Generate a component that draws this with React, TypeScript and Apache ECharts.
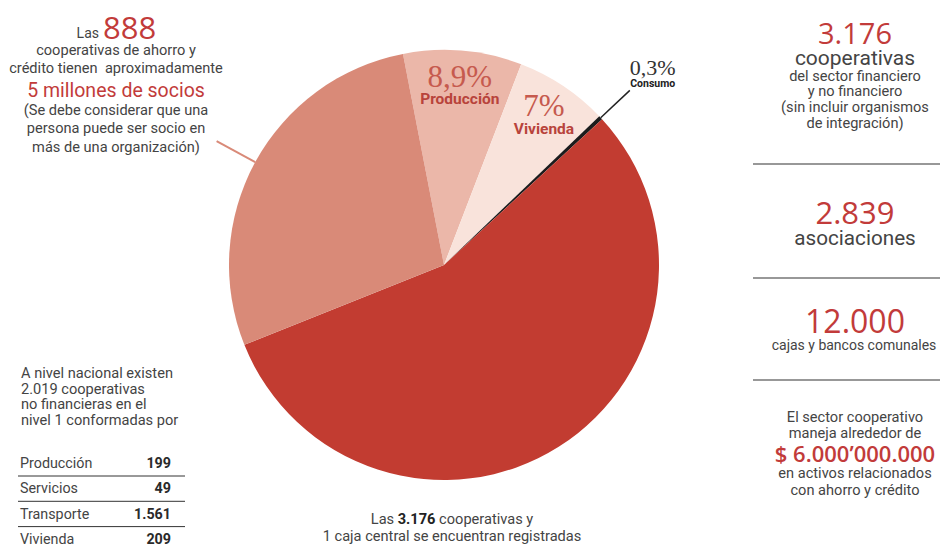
import React, { useEffect, useRef } from "react";
import * as echarts from "echarts";

// ---------- data ----------
const sliceNames = ["Producción", "Vivienda", "Consumo", "Servicios y transporte", "Ahorro y crédito"];
const sliceValues = [8.9, 7, 0.3, 55.8, 28];
const sliceLabels = ["8,9%", "7%", "0,3%", "", ""];
const sliceColors = ["#ebb7a9", "#f9e3db", "#1c1c1c", "#c23c31", "#d98a78"];

const tableCategories = ["Producción", "Servicios", "Transporte", "Vivienda"];
const tableValues = ["199", "49", "1.561", "209"];

const leftIntro = ["A nivel nacional existen", "2.019 cooperativas", "no financieras en el", "nivel 1 conformadas por"];

const topLeftLines = [
  "cooperativas de ahorro y",
  "crédito tienen  aproximadamente",
  "5 millones de socios",
  "(Se debe considerar que una",
  "persona puede ser socio en",
  "más de una organización)",
];

const statNumbers = ["3.176", "2.839", "12.000", "$ 6.000’000.000"];

// ---------- styles ----------
const FONT = "Roboto, 'Open Sans', sans-serif";
const NUMFONT = "'Open Sans', sans-serif";
const SERIF = "'Liberation Serif', 'DejaVu Serif', serif";
const GRAY = "#444444";
const RED = "#c23b3a";

const txt = (
  text: string,
  x: number,
  y: number,
  size: number,
  opts: { fill?: string; align?: string; weight?: string | number; family?: string } = {}
) => ({
  type: "text",
  x,
  y,
  silent: true,
  style: {
    text,
    fontSize: size,
    fontFamily: opts.family || FONT,
    fontWeight: opts.weight || "normal",
    fill: opts.fill || GRAY,
    textAlign: opts.align || "center",
    textVerticalAlign: "middle",
    align: opts.align || "center",
    verticalAlign: "middle",
  },
});

const hline = (x1: number, x2: number, y: number, color = "#333", w = 1.2) => ({
  type: "line",
  silent: true,
  shape: { x1, y1: y, x2, y2: y },
  style: { stroke: color, lineWidth: w },
});

export default function App() {
  const ref = useRef<HTMLDivElement>(null);

  useEffect(() => {
    const chart = echarts.init(ref.current!, null, { renderer: "svg" });

    const graphics: any[] = [];

    // top-left block
    const LX = 116;
    graphics.push(txt("Las", 99, 33, 14, { align: "right" }));
    graphics.push(txt("888", 103, 27, 31, { align: "left", fill: RED, family: NUMFONT }));
    const tlY = [50, 68, 90, 110, 128, 147];
    topLeftLines.forEach((l, i) => {
      graphics.push(txt(l, LX, tlY[i], i === 2 ? 19.5 : 14.6, { fill: i === 2 ? RED : GRAY }));
    });

    // right panel
    const RX = 855;
    graphics.push(txt(statNumbers[0], RX, 32, 29, { fill: RED, family: NUMFONT }));
    graphics.push(txt("cooperativas", RX, 58, 21));
    ["del sector financiero", "y no financiero", "(sin incluir organismos", "de integración)"].forEach((l, i) =>
      graphics.push(txt(l, RX, [76, 91, 107, 123][i], 14.6))
    );
    graphics.push(hline(753, 940, 164));
    graphics.push(txt(statNumbers[1], RX, 212, 31, { fill: RED, family: NUMFONT }));
    graphics.push(txt("asociaciones", RX, 238, 20.7));
    graphics.push(hline(753, 940, 278));
    graphics.push(txt(statNumbers[2], RX, 320, 32, { fill: RED, family: NUMFONT }));
    graphics.push(txt("cajas y bancos comunales", 854, 345, 14));
    graphics.push(hline(753, 940, 380));
    graphics.push(txt("El sector cooperativo", RX, 417, 14.6));
    graphics.push(txt("maneja alrededor de", RX, 433, 14.6));
    graphics.push(txt(statNumbers[3], RX, 453, 22, { fill: RED, family: NUMFONT, weight: 600 }));
    graphics.push(txt("en activos relacionados", RX, 473, 14.6));
    graphics.push(txt("con ahorro y crédito", RX, 490, 14.6));

    // bottom-left block
    leftIntro.forEach((l, i) => graphics.push(txt(l, 21, 373 + i * 15.5, 14.6, { align: "left" })));
    tableCategories.forEach((c, i) => {
      const y = 463 + i * 25.3;
      graphics.push(txt(c, 20, y, 14.3, { align: "left" }));
      graphics.push(txt(tableValues[i], 171, y, 14.3, { align: "right", weight: "bold", fill: "#2a2a2a" }));
      if (i < tableCategories.length - 1) graphics.push(hline(18, 185, y + 13, "#333", 1));
    });

    // bottom center
    graphics.push({
      type: "text",
      x: 452,
      y: 519,
      silent: true,
      style: {
        text: "{a|Las }{b|3.176}{a| cooperativas y}",
        textAlign: "center",
        textVerticalAlign: "middle",
        align: "center",
        verticalAlign: "middle",
        rich: {
          a: { fontFamily: FONT, fontSize: 14.6, fill: GRAY },
          b: { fontFamily: FONT, fontSize: 14.6, fontWeight: "bold", fill: "#222" },
        },
      },
    });
    graphics.push(txt("1 caja central se encuentran registradas", 452, 536, 14.6));

    const pctRich = {
      p: { fontFamily: SERIF, fontSize: 31, color: "#c65a4e", lineHeight: 28, align: "center" },
      n: { fontFamily: FONT, fontSize: 15.5, fontWeight: "bold", color: "#b8433b", lineHeight: 18, align: "center" },
    };

    const mainData = sliceValues.map((v, i) => {
      const d: any = { name: sliceNames[i], value: v, itemStyle: { color: sliceColors[i] } };
      if (i === 2) {
        d.label = {
          show: true,
          position: "outside",
          formatter: `{p|${sliceLabels[i]}}\n{n|${sliceNames[i]}}`,
          distanceToLabelLine: 0,
          padding: [0, 0, 32, 0],
          rich: {
            p: { fontFamily: SERIF, fontSize: 22, color: "#333", lineHeight: 19, align: "center" },
            n: { fontFamily: FONT, fontSize: 10.5, fontWeight: "bold", color: "#222", lineHeight: 13, align: "center" },
          },
        };
        d.labelLine = { show: true, length: 40, length2: 0, lineStyle: { color: "#222", width: 1.5 } };
      } else if (i === 4) {
        d.label = { show: true, position: "outside", formatter: " " };
        d.labelLine = { show: true, length: 44, length2: 0, lineStyle: { color: "#d98a78", width: 2 } };
      }
      return d;
    });

    const ringData = sliceValues.map((v, i) => ({
      name: sliceNames[i],
      value: v,
      label: {
        show: i < 2,
        formatter: `{p|${sliceLabels[i]}}\n{n|${sliceNames[i]}}`,
      },
    }));

    chart.setOption({
      animation: false,
      graphic: graphics,
      series: [
        {
          type: "pie",
          center: [444, 265],
          radius: [0, 215],
          startAngle: 101,
          clockwise: true,
          silent: true,
          avoidLabelOverlap: false,
          label: { show: false },
          labelLine: { show: false },
          itemStyle: { borderWidth: 0 },
          data: mainData,
        },
        {
          type: "pie",
          center: [444, 265],
          radius: [140, 215],
          startAngle: 101,
          clockwise: true,
          silent: true,
          avoidLabelOverlap: false,
          itemStyle: { color: "rgba(0,0,0,0)", borderWidth: 0 },
          label: { show: true, position: "inside", rich: pctRich },
          labelLine: { show: false },
          data: ringData,
        },
      ],
    });

    return () => chart.dispose();
  }, []);

  return (
    <div
      ref={ref}
      style={{ position: "absolute", left: 0, top: 0, width: 940, height: 547, background: "#fff" }}
    />
  );
}
